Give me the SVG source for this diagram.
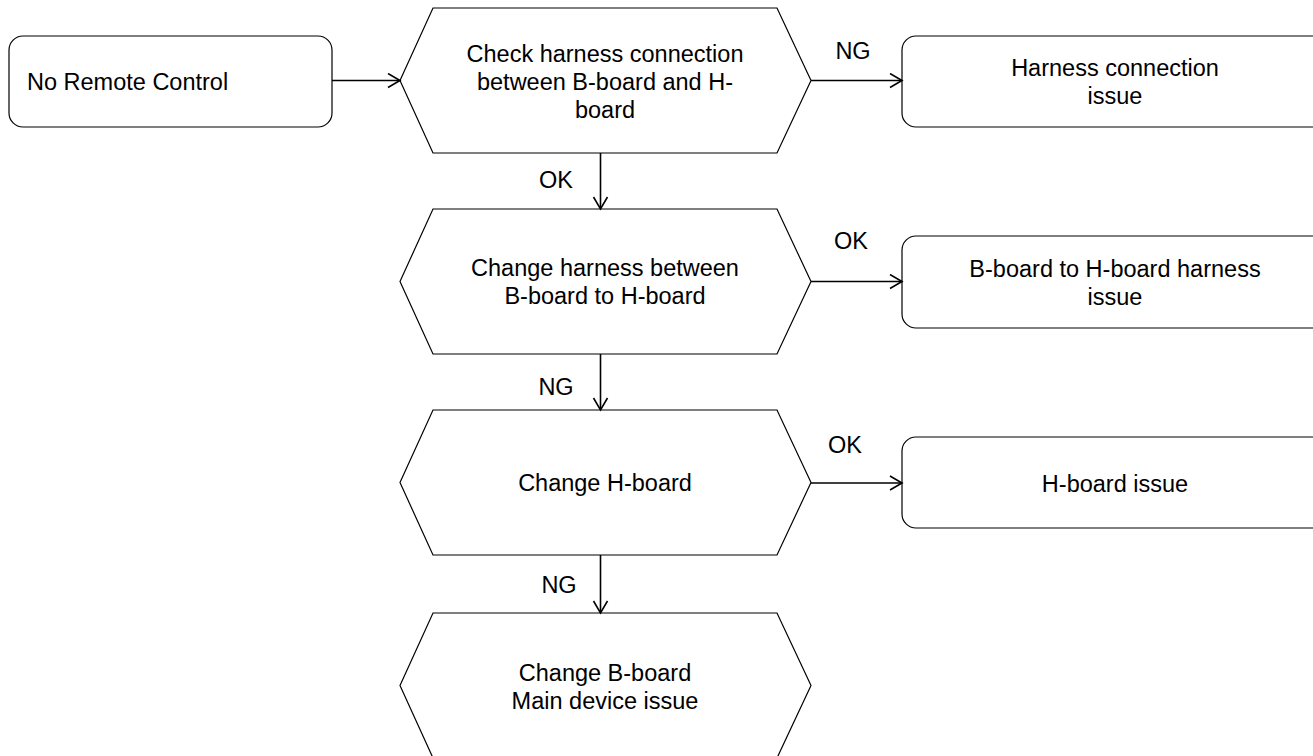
<svg xmlns="http://www.w3.org/2000/svg" width="1313" height="756" viewBox="0 0 1313 756">
<style>
.shape{fill:#fff;stroke:#000;stroke-width:1.2}
.t{font-family:"Liberation Sans",Arial,sans-serif;font-size:23.5px;fill:#000;text-anchor:middle}
.conn{fill:none;stroke:#000;stroke-width:1.6}
</style>
<defs>
<marker id="arr" markerUnits="userSpaceOnUse" markerWidth="16" markerHeight="18" refX="13" refY="8" orient="auto">
<path d="M1,1 L13,8 L1,15" fill="none" stroke="#000" stroke-width="1.6"/>
</marker>
</defs>
<rect width="1313" height="756" fill="#fff"/>
<g id="start">
<rect class="shape" x="9" y="36" width="323" height="91" rx="14"/>
<text class="t" x="27" y="90" text-anchor="start" style="text-anchor:start">No Remote Control</text>
</g>
<g id="check">
<polygon class="shape" points="433,8 777,8 811,80.5 777,153 433,153 400,80.5"/>
<text class="t" x="605" y="62">Check harness connection</text>
<text class="t" x="605" y="90">between B-board and H-</text>
<text class="t" x="605" y="118">board</text>
</g>
<g id="change-harness">
<polygon class="shape" points="433,209 777,209 811,281.5 777,354 433,354 400,281.5"/>
<text class="t" x="605" y="276">Change harness between</text>
<text class="t" x="605" y="304">B-board to H-board</text>
</g>
<g id="change-hboard">
<polygon class="shape" points="433,410 777,410 811,482.5 777,555 433,555 400,482.5"/>
<text class="t" x="605" y="491">Change H-board</text>
</g>
<g id="change-bboard">
<polygon class="shape" points="433,613 777,613 811,685.5 777,758 433,758 400,685.5"/>
<text class="t" x="605" y="681">Change B-board</text>
<text class="t" x="605" y="709">Main device issue</text>
</g>
<g id="harness-issue">
<rect class="shape" x="902" y="36" width="426" height="91" rx="14"/>
<text class="t" x="1115" y="76">Harness connection</text>
<text class="t" x="1115" y="104">issue</text>
</g>
<g id="bh-harness-issue">
<rect class="shape" x="902" y="236" width="426" height="92" rx="14"/>
<text class="t" x="1115" y="277">B-board to H-board harness</text>
<text class="t" x="1115" y="305">issue</text>
</g>
<g id="hboard-issue">
<rect class="shape" x="902" y="437" width="426" height="91" rx="14"/>
<text class="t" x="1115" y="492">H-board issue</text>
</g>
<g id="connectors">
<line class="conn" x1="332" y1="80.5" x2="400" y2="80.5" marker-end="url(#arr)"/>
<line class="conn" x1="811" y1="80.5" x2="902" y2="80.5" marker-end="url(#arr)"/>
<text class="t" x="853" y="59">NG</text>
<line class="conn" x1="600.5" y1="153" x2="600.5" y2="209" marker-end="url(#arr)"/>
<text class="t" x="556" y="188">OK</text>
<line class="conn" x1="811" y1="281.5" x2="902" y2="281.5" marker-end="url(#arr)"/>
<text class="t" x="851" y="249">OK</text>
<line class="conn" x1="600.5" y1="354" x2="600.5" y2="410" marker-end="url(#arr)"/>
<text class="t" x="556" y="395">NG</text>
<line class="conn" x1="811" y1="483" x2="902" y2="483" marker-end="url(#arr)"/>
<text class="t" x="845" y="453">OK</text>
<line class="conn" x1="600.5" y1="555" x2="600.5" y2="613" marker-end="url(#arr)"/>
<text class="t" x="559" y="593">NG</text>
</g>
</svg>
